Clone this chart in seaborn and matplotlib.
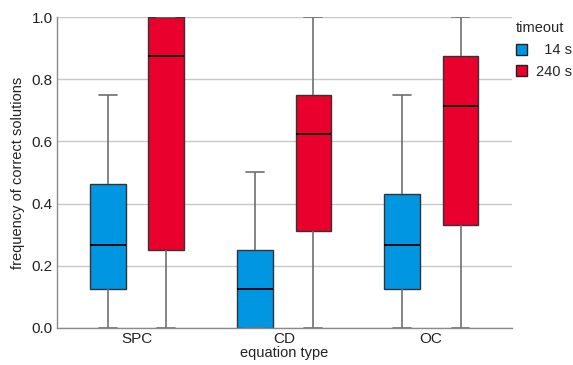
'''grouped boxplot: frequency of correct solutions by equation type and timeout'''
import numpy as np
import pandas as pd
import seaborn as sns
import matplotlib.pyplot as plt

#region data
categories = ['SPC', 'CD', 'OC']
timeouts = ['  14 s', '240 s']
# five-number summaries: min, q1, median, q3, max
spc_14 = [0.0, 0.125, 0.268, 0.464, 0.75]
spc_240 = [0.0, 0.25, 0.875, 1.0, 1.0]
cd_14 = [0.0, 0.0, 0.125, 0.25, 0.5]
cd_240 = [0.0, 0.3125, 0.625, 0.75, 1.0]
oc_14 = [0.0, 0.125, 0.268, 0.43, 0.75]
oc_240 = [0.0, 0.33, 0.714, 0.875, 1.0]
#endregion

blue = '#0096E1'
red = '#E9002D'

series = {('SPC', timeouts[0]): spc_14, ('SPC', timeouts[1]): spc_240,
          ('CD', timeouts[0]): cd_14, ('CD', timeouts[1]): cd_240,
          ('OC', timeouts[0]): oc_14, ('OC', timeouts[1]): oc_240}
rows = []
for (cat, to), vals in series.items():
    for v in vals:
        rows.append({'equation type': cat, 'timeout': to, 'freq': v})
df = pd.DataFrame(rows)

sns.set_theme(style='whitegrid')
plt.rcParams['font.family'] = ['Liberation Sans', 'DejaVu Sans']

fig = plt.figure(figsize=(5.73, 3.65), dpi=100)
ax = fig.add_axes([0.0995, 0.1014, 0.794, 0.852])

sns.boxplot(data=df, x='equation type', y='freq', hue='timeout', order=categories,
            hue_order=timeouts, palette=[blue, red], width=0.8, gap=0.39,
            whis=1.5, saturation=1, fliersize=0, ax=ax,
            boxprops={'edgecolor': '#333333', 'linewidth': 1.0},
            medianprops={'color': '#000000', 'linewidth': 1.3},
            whiskerprops={'color': '#707070', 'linewidth': 1.2},
            capprops={'color': '#707070', 'linewidth': 1.2})

ax.set_xlim(-0.544, 2.55)
ax.set_ylim(0, 1.0)
ax.set_yticks([0.0, 0.2, 0.4, 0.6, 0.8, 1.0])
ax.set_yticklabels(['0.0', '0.2', '0.4', '0.6', '0.8', '1.0'])
ax.grid(axis='y', color='#C8C8C8', linewidth=1.0)
ax.grid(axis='x', visible=False)
ax.set_axisbelow(True)
for s in ['top', 'right']:
    ax.spines[s].set_visible(False)
for s in ['left', 'bottom']:
    ax.spines[s].set_color('#8A8A8A')
    ax.spines[s].set_linewidth(1.0)
ax.tick_params(axis='both', length=0, labelsize=11, colors='#222222', pad=3)
ax.set_xlabel('equation type', fontsize=10.5, labelpad=0, color='#222222')
ax.set_ylabel('frequency of correct solutions', fontsize=10.5, labelpad=5, color='#222222')

leg = ax.legend(title='timeout', loc='upper left',
                bbox_to_anchor=(516 / 573, 1 - 21 / 365), bbox_transform=fig.transFigure,
                frameon=False, fontsize=10.5, title_fontsize=10.5,
                handlelength=0.76, handleheight=0.76, handletextpad=0.6,
                borderaxespad=0, borderpad=0, labelspacing=0.5)
leg._legend_box.align = 'left'
leg._legend_box.sep = 6
for h in leg.legend_handles:
    h.set_edgecolor('#222222')

fig.savefig('out.png', dpi=100)
